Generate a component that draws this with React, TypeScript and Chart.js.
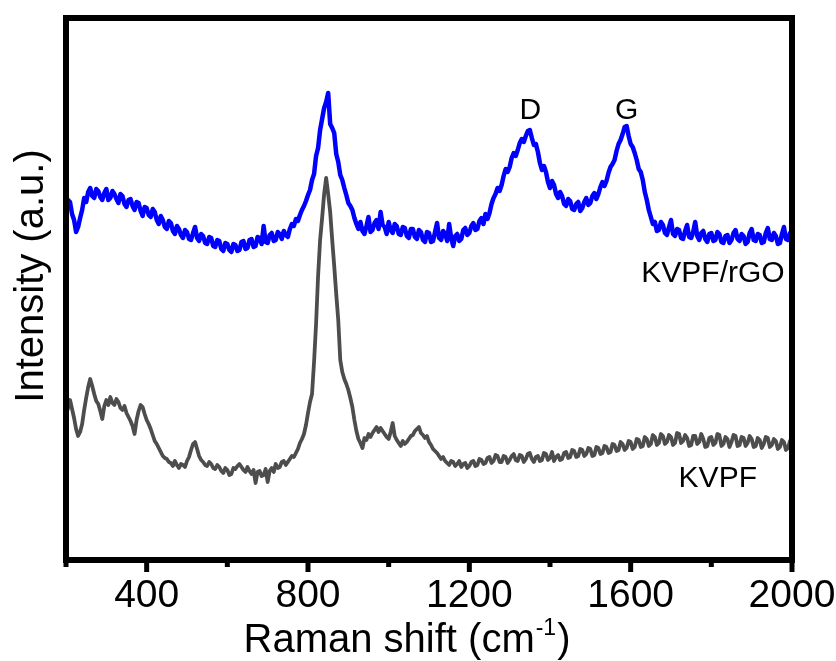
import React, { useEffect, useRef } from 'react';
import { Chart, registerables } from 'chart.js';

Chart.register(...registerables);

// Raman shift (cm-1) sampling positions
const ramanShift = [
  200, 205, 210, 215, 220, 225, 230, 235, 240, 245, 250, 255, 260, 265, 270, 275, 280, 285, 290, 295,
  300, 305, 310, 315, 320, 325, 330, 335, 340, 345, 350, 355, 360, 365, 370, 375, 380, 385, 390, 395,
  400, 405, 410, 415, 420, 425, 430, 435, 440, 445, 450, 455, 460, 465, 470, 475, 480, 485, 490, 495,
  500, 505, 510, 515, 520, 525, 530, 535, 540, 545, 550, 555, 560, 565, 570, 575, 580, 585, 590, 595,
  600, 605, 610, 615, 620, 625, 630, 635, 640, 645, 650, 655, 660, 665, 670, 675, 680, 685, 690, 695,
  700, 705, 710, 715, 720, 725, 730, 735, 740, 745, 750, 755, 760, 765, 770, 775, 780, 785, 790, 795,
  800, 805, 810, 815, 820, 825, 830, 835, 840, 845, 850, 855, 860, 865, 870, 875, 880, 885, 890, 895,
  900, 905, 910, 915, 920, 925, 930, 935, 940, 945, 950, 955, 960, 965, 970, 975, 980, 985, 990, 995,
  1000, 1005, 1010, 1015, 1020, 1025, 1030, 1035, 1040, 1045, 1050, 1055, 1060, 1065, 1070, 1075, 1080, 1085, 1090, 1095,
  1100, 1105, 1110, 1115, 1120, 1125, 1130, 1135, 1140, 1145, 1150, 1155, 1160, 1165, 1170, 1175, 1180, 1185, 1190, 1195,
  1200, 1205, 1210, 1215, 1220, 1225, 1230, 1235, 1240, 1245, 1250, 1255, 1260, 1265, 1270, 1275, 1280, 1285, 1290, 1295,
  1300, 1305, 1310, 1315, 1320, 1325, 1330, 1335, 1340, 1345, 1350, 1355, 1360, 1365, 1370, 1375, 1380, 1385, 1390, 1395,
  1400, 1405, 1410, 1415, 1420, 1425, 1430, 1435, 1440, 1445, 1450, 1455, 1460, 1465, 1470, 1475, 1480, 1485, 1490, 1495,
  1500, 1505, 1510, 1515, 1520, 1525, 1530, 1535, 1540, 1545, 1550, 1555, 1560, 1565, 1570, 1575, 1580, 1585, 1590, 1595,
  1600, 1605, 1610, 1615, 1620, 1625, 1630, 1635, 1640, 1645, 1650, 1655, 1660, 1665, 1670, 1675, 1680, 1685, 1690, 1695,
  1700, 1705, 1710, 1715, 1720, 1725, 1730, 1735, 1740, 1745, 1750, 1755, 1760, 1765, 1770, 1775, 1780, 1785, 1790, 1795,
  1800, 1805, 1810, 1815, 1820, 1825, 1830, 1835, 1840, 1845, 1850, 1855, 1860, 1865, 1870, 1875, 1880, 1885, 1890, 1895,
  1900, 1905, 1910, 1915, 1920, 1925, 1930, 1935, 1940, 1945, 1950, 1955, 1960, 1965, 1970, 1975, 1980, 1985, 1990, 1995,
  2000,
];

// KVPF/rGO (blue, offset upward)
const kvpfRgoIntensity = [
  352, 360, 358, 346, 340, 328, 333, 342, 350, 362, 358, 368, 372, 364, 362, 371, 369, 363, 360, 367,
  371, 360, 362, 369, 366, 361, 357, 366, 364, 356, 353, 360, 361, 354, 350, 358, 357, 349, 344, 353,
  352, 345, 343, 351, 348, 340, 336, 344, 340, 333, 331, 339, 337, 329, 326, 334, 331, 325, 322, 330,
  328, 321, 320, 327, 333, 322, 319, 326, 324, 317, 316, 323, 322, 314, 313, 320, 319, 311, 309, 317,
  316, 310, 308, 316, 315, 309, 310, 318, 319, 311, 312, 320, 321, 313, 314, 323, 322, 316, 334, 318,
  317, 325, 327, 319, 320, 328, 326, 321, 329, 325, 323, 331, 336, 334, 341, 339, 345, 350, 354, 359,
  365, 370, 380, 386, 404, 412, 430, 441, 452, 458, 467, 436, 432, 427, 406, 398, 385, 380, 372, 365,
  357, 354, 350, 342, 336, 331, 338, 329, 326, 334, 343, 328, 330, 337, 340, 331, 348, 335, 333, 326,
  338, 330, 327, 336, 334, 326, 325, 333, 332, 324, 322, 331, 331, 323, 321, 330, 328, 320, 318, 328,
  327, 318, 319, 328, 337, 322, 320, 329, 326, 319, 336, 322, 314, 324, 326, 319, 321, 330, 332, 325,
  327, 334, 337, 330, 331, 339, 342, 336, 346, 341, 347, 356, 362, 366, 372, 369, 375, 384, 391, 388,
  393, 402, 407, 404, 410, 417, 421, 418, 424, 429, 430, 422, 415, 416, 408, 397, 390, 394, 388, 378,
  372, 379, 375, 366, 362, 368, 364, 356, 354, 361, 359, 351, 350, 356, 358, 349, 352, 358, 362, 355,
  357, 364, 367, 361, 366, 373, 378, 374, 379, 387, 393, 396, 400, 409, 416, 420, 426, 433, 434, 424,
  416, 413, 407, 400, 391, 388, 380, 368, 360, 350, 343, 336, 338, 329, 330, 338, 335, 327, 325, 333,
  340, 326, 324, 331, 330, 322, 321, 329, 335, 323, 322, 328, 338, 324, 320, 327, 329, 321, 318, 326,
  327, 319, 320, 328, 326, 318, 317, 324, 325, 317, 320, 327, 330, 321, 319, 326, 324, 316, 318, 327,
  331, 320, 319, 326, 325, 317, 318, 327, 332, 321, 320, 327, 324, 316, 317, 326, 333, 321, 320, 327,
  326,
];

// KVPF (grey)
const kvpfIntensity = [
  145, 152, 160, 151, 142, 131, 124, 128, 136, 150, 162, 173, 181, 174, 166, 159, 156, 149, 141, 154,
  160, 155, 163, 157, 155, 161, 158, 152, 150, 154, 147, 143, 139, 134, 126, 140, 149, 155, 153, 146,
  140, 136, 131, 125, 119, 116, 112, 108, 104, 102, 101, 98, 97, 94, 99, 95, 92, 96, 95, 93,
  99, 103, 110, 116, 118, 111, 104, 100, 98, 95, 94, 98, 96, 92, 91, 95, 93, 89, 87, 92,
  90, 85, 86, 92, 91, 94, 96, 93, 90, 88, 93, 89, 86, 90, 77, 88, 89, 84, 85, 91,
  78, 89, 92, 88, 96, 92, 93, 98, 99, 95, 98, 101, 104, 103, 107, 111, 117, 121, 126, 135,
  147, 158, 166, 198, 236, 284, 320, 342, 366, 382, 366, 348, 320, 294, 266, 240, 200, 188, 181, 176,
  170, 162, 153, 140, 129, 121, 117, 112, 122, 120, 126, 123, 127, 130, 133, 128, 132, 129, 126, 123,
  121, 128, 137, 124, 120, 117, 114, 119, 116, 118, 121, 124, 125, 129, 131, 133, 127, 125, 122, 124,
  118, 115, 111, 109, 107, 104, 101, 103, 99, 97, 95, 99, 98, 94, 96, 99, 93, 96, 97, 92,
  94, 98, 99, 94, 95, 101, 100, 96, 97, 102, 103, 97, 99, 105, 104, 98, 98, 104, 103, 97,
  100, 104, 106, 100, 99, 105, 104, 98, 101, 106, 107, 101, 98, 103, 104, 99, 100, 107, 106, 100,
  102, 108, 99, 103, 105, 100, 101, 107, 108, 102, 103, 110, 109, 103, 104, 111, 110, 104, 106, 112,
  111, 104, 105, 113, 112, 106, 107, 114, 113, 107, 108, 116, 115, 109, 110, 118, 116, 110, 112, 119,
  118, 111, 113, 121, 120, 113, 114, 123, 121, 114, 116, 125, 123, 115, 117, 126, 124, 116, 118, 125,
  123, 115, 117, 127, 126, 117, 119, 125, 122, 114, 115, 124, 124, 116, 118, 126, 121, 113, 114, 122,
  123, 115, 117, 126, 125, 114, 116, 123, 121, 113, 118, 125, 124, 114, 115, 123, 122, 114, 117, 124,
  121, 113, 114, 122, 120, 112, 116, 123, 122, 113, 115, 121, 119, 111, 113, 120, 118, 110, 112, 119,
  116,
];

const majorTickLabels = [400, 800, 1200, 1600, 2000];

const annotationTexts = ['D', 'G', 'KVPF/rGO', 'KVPF'];
const annotationShift = [1351, 1590, 1804, 1816];
const annotationIntensity = [441, 441, 278, 73];

const xTitleMain = 'Raman shift (cm';
const xTitleSup = '-1';
const xTitleEnd = ')';
const yTitle = 'Intensity (a.u.)';

const FONT = '"Liberation Sans", Arial, Helvetica, sans-serif';

const decorPlugin = {
  id: 'decor',
  afterDatasetsDraw(chart: any) {
    const { ctx, chartArea } = chart;
    const { left, top, right, bottom } = chartArea;
    const xs = chart.scales.x;
    ctx.save();
    ctx.strokeStyle = '#000';
    ctx.lineWidth = 6;
    ctx.strokeRect(left, top, right - left, bottom - top);
    ctx.lineWidth = 5;
    ctx.lineCap = 'butt';
    for (const t of xs.ticks) {
      const p = xs.getPixelForValue(t.value);
      const major = majorTickLabels.includes(t.value);
      ctx.beginPath();
      ctx.moveTo(p, bottom);
      ctx.lineTo(p, bottom + (major ? 12 : 7));
      ctx.stroke();
    }
    ctx.restore();
  },
  afterDraw(chart: any) {
    const { ctx } = chart;
    const xs = chart.scales.x;
    const ys = chart.scales.y;
    ctx.save();
    ctx.fillStyle = '#000';
    // annotations
    ctx.font = `30px ${FONT}`;
    ctx.textAlign = 'center';
    ctx.textBaseline = 'alphabetic';
    annotationTexts.forEach((txt, i) => {
      ctx.fillText(txt, xs.getPixelForValue(annotationShift[i]), ys.getPixelForValue(annotationIntensity[i]));
    });
    // x title
    ctx.textAlign = 'left';
    const mainFont = `40px ${FONT}`;
    const supFont = `23px ${FONT}`;
    ctx.font = mainFont;
    const w1 = ctx.measureText(xTitleMain).width;
    const w3 = ctx.measureText(xTitleEnd).width;
    ctx.font = supFont;
    const w2 = ctx.measureText(xTitleSup).width;
    const total = w1 + w2 + w3 + 2;
    const cx = 407;
    const base = 652;
    let x = cx - total / 2;
    ctx.font = mainFont;
    ctx.fillText(xTitleMain, x, base);
    x += w1 + 1;
    ctx.font = supFont;
    ctx.fillText(xTitleSup, x, base - 17);
    x += w2 + 1;
    ctx.font = mainFont;
    ctx.fillText(xTitleEnd, x, base);
    // y title
    ctx.translate(43, 276);
    ctx.rotate(-Math.PI / 2);
    ctx.textAlign = 'center';
    ctx.font = `40px ${FONT}`;
    ctx.fillText(yTitle, 0, 0);
    ctx.restore();
  },
};

export default function App() {
  const canvasRef = useRef<HTMLCanvasElement | null>(null);

  useEffect(() => {
    const canvas = canvasRef.current;
    if (!canvas) return;
    Chart.defaults.font.family = FONT;
    const chart = new Chart(canvas, {
      type: 'line',
      data: {
        datasets: [
          {
            label: 'KVPF',
            data: ramanShift.map((s, i) => ({ x: s, y: kvpfIntensity[i] })),
            borderColor: '#4d4d4d',
            borderWidth: 3.8,
            pointRadius: 0,
            tension: 0,
            borderJoinStyle: 'round',
          },
          {
            label: 'KVPF/rGO',
            data: ramanShift.map((s, i) => ({ x: s, y: kvpfRgoIntensity[i] })),
            borderColor: '#0000ff',
            borderWidth: 4.5,
            pointRadius: 0,
            tension: 0,
            borderJoinStyle: 'round',
          },
        ],
      },
      options: {
        responsive: false,
        animation: false,
        layout: { padding: { left: 66, top: 18, right: 44, bottom: 0 } },
        plugins: {
          legend: { display: false },
          tooltip: { enabled: false },
        },
        scales: {
          x: {
            type: 'linear',
            min: 200,
            max: 2000,
            grid: { display: false, drawTicks: false },
            border: { display: false },
            ticks: {
              stepSize: 200,
              autoSkip: false,
              maxRotation: 0,
              minRotation: 0,
              padding: 13,
              color: '#000',
              font: { size: 39, family: FONT },
              callback: (v: any) => (majorTickLabels.includes(Number(v)) ? String(v) : ''),
            },
            afterFit: (s: any) => {
              s.height = 101;
              s.paddingLeft = 0;
              s.paddingRight = 0;
            },
          },
          y: {
            display: false,
            min: 0,
            max: 542,
          },
        },
      },
      plugins: [decorPlugin],
    });
    return () => chart.destroy();
  }, []);

  return (
    <div style={{ position: 'fixed', left: 0, top: 0, width: 836, height: 661, background: '#fff' }}>
      <canvas ref={canvasRef} width={836} height={661} style={{ display: 'block' }} />
    </div>
  );
}
